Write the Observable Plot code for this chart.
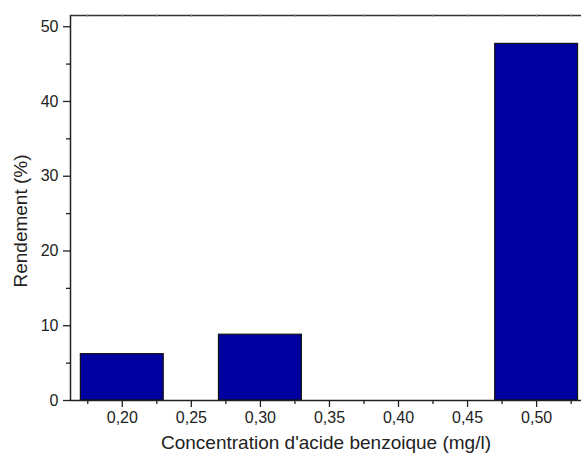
<!DOCTYPE html>
<html>
<head>
<meta charset="utf-8">
<script src="https://cdn.jsdelivr.net/npm/d3@7"></script>
<script src="https://cdn.jsdelivr.net/npm/@observablehq/plot@0.6"></script>
<style>
  html, body { margin: 0; padding: 0; background: #fff; }
  svg { font-family: "Liberation Sans", Arial, sans-serif; }
</style>
</head>
<body>
<div id="chart"></div>
<script>
// Benzoic acid concentration (mg/l) and yield (%)
const concentrations = [0.20, 0.30, 0.50];
const rendements = [6.2, 8.8, 47.7];

// Axis ticks
const xMajorTicks = [0.20, 0.25, 0.30, 0.35, 0.40, 0.45, 0.50];
const xMinorTicks = [0.175, 0.225, 0.275, 0.325, 0.375, 0.425, 0.475, 0.525];
const yMajorTicks = [0, 10, 20, 30, 40, 50];
const yMinorTicks = [5, 15, 25, 35, 45];

const xTitle = "Concentration d'acide benzoique (mg/l)";
const yTitle = "Rendement (%)";

const xDomain = [0.1625, 0.5325];
const yDomain = [0, 51.5];
const barHalfWidth = 0.03;

const data = concentrations.map((c, i) => ({c, v: rendements[i]}));
const fmt = d => d.toFixed(2).replace(".", ",");

const chart = Plot.plot({
  width: 581,
  height: 457,
  marginLeft: 70,
  marginRight: 0,
  marginTop: 15,
  marginBottom: 57,
  x: {type: "linear", domain: xDomain},
  y: {type: "linear", domain: yDomain},
  style: {fontFamily: "'Liberation Sans', Arial, sans-serif", color: "#222"},
  marks: [
    Plot.rect(data, {
      x1: d => d.c - barHalfWidth,
      x2: d => d.c + barHalfWidth,
      y1: 0,
      y2: "v",
      fill: "#0000a0",
      stroke: "#111",
      strokeWidth: 1.2
    }),
    // frame lines
    Plot.ruleX([xDomain[0]], {stroke: "#222", strokeWidth: 1.5}),
    Plot.ruleY([0], {stroke: "#222", strokeWidth: 1.5}),
    Plot.ruleY([yDomain[1]], {stroke: "#333", strokeWidth: 1.5}),
    // y axis
    Plot.axisY({ticks: yMajorTicks, tickSize: 7, tickPadding: 5, fontSize: 16, label: null, tickFormat: d => String(d), strokeWidth: 1.3}),
    Plot.axisY({ticks: yMinorTicks, tickSize: 4, text: null, label: null, strokeWidth: 1.3}),
    // x axis
    Plot.axisX({ticks: xMajorTicks, tickSize: 7, tickPadding: 4, fontSize: 16, label: null, tickFormat: fmt, strokeWidth: 1.3}),
    Plot.axisX({ticks: xMinorTicks, tickSize: 4, text: null, label: null, strokeWidth: 1.3}),
    // axis titles
    Plot.text([xTitle], {frameAnchor: "bottom", dy: 42, lineAnchor: "middle", textAnchor: "middle", fontSize: 19, fill: "#222"}),
    Plot.text([yTitle], {frameAnchor: "left", dx: -50, dy: 13, rotate: -90, lineAnchor: "middle", textAnchor: "middle", fontSize: 19, fill: "#222"}),
    // small ticks on the top frame
    Plot.ruleX(xMinorTicks.concat(xMajorTicks), {x: d => d, y1: yDomain[1], y2: yDomain[1], stroke: "#999", strokeWidth: 1, insetTop: -1, insetBottom: -2})
  ]
});

document.getElementById("chart").appendChild(chart);
</script>
</body>
</html>
